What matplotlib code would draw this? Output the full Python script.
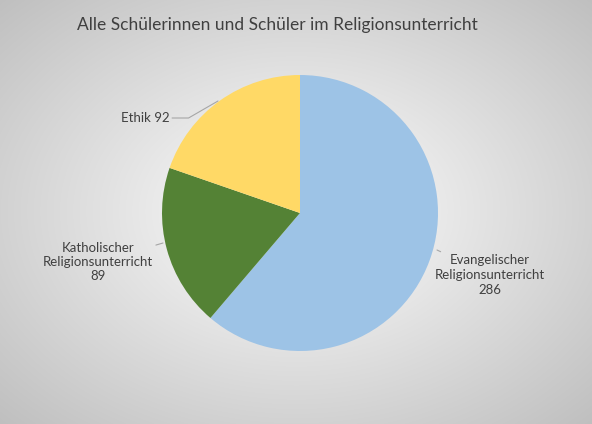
import numpy as np
import matplotlib
matplotlib.use("Agg")
import matplotlib.pyplot as plt

categories = ["Evangelischer\nReligionsunterricht", "Katholischer\nReligionsunterricht", "Ethik"]
values = [286, 89, 92]
colors = ["#9DC3E6", "#548235", "#FFD966"]
title = "Alle Schülerinnen und Schüler im Religionsunterricht"

W, H = 592, 424
fig = plt.figure(figsize=(W/100, H/100), dpi=100)
plt.rcParams['font.family'] = ['Lato', 'DejaVu Sans']

bg = fig.add_axes([0, 0, 1, 1])
yy, xx = np.mgrid[0:H, 0:W]
r = np.sqrt(((xx - W/2)/(W/2))**2 + ((yy - H/2)/(H/2))**2) / np.sqrt(2)
g = 1.0 - 0.25 * r
bg.imshow(np.dstack([g, g, g]), extent=[0, W, 0, H], origin='lower', aspect='auto')
bg.set_axis_off()
bg.text(277, H - 25, title, ha='center', va='center', fontsize=12.5, color='#404040')

cx, cy, rad = 300, 213, 138
ax = fig.add_axes([(cx-rad)/W, (H-cy-rad)/H, 2*rad/W, 2*rad/H])
ax.pie(values, colors=colors, startangle=90, counterclock=False,
       wedgeprops=dict(edgecolor='none'))
ax.set_xlim(-1, 1); ax.set_ylim(-1, 1); ax.set_aspect('auto')
ax.set_axis_off()

def px(x, y):
    return ((x - cx)/rad, (cy - y)/rad)

tc = '#404040'
lc = '#A6A6A6'
ax.annotate(f"{categories[2]} {values[2]}", xy=px(218, 101), xytext=px(145, 118),
            ha='center', va='center', fontsize=9.5, color=tc,
            arrowprops=dict(arrowstyle='-', color=lc, lw=0.8, shrinkA=0, shrinkB=0,
                            connectionstyle="angle,angleA=0,angleB=30"), annotation_clip=False)
ax.annotate(f"{categories[1]}\n{values[1]}", xy=px(163, 243), xytext=px(98, 262),
            ha='center', va='center', fontsize=9.5, color=tc, linespacing=1.25,
            arrowprops=dict(arrowstyle='-', color=lc, lw=0.8, shrinkA=0, shrinkB=0),
            annotation_clip=False)
ax.annotate(f"{categories[0]}\n{values[0]}", xy=px(437, 250), xytext=px(490, 275),
            ha='center', va='center', fontsize=9.5, color=tc, linespacing=1.25,
            arrowprops=dict(arrowstyle='-', color=lc, lw=0.8, shrinkA=0, shrinkB=0),
            annotation_clip=False)

fig.savefig("out.png", dpi=100)
